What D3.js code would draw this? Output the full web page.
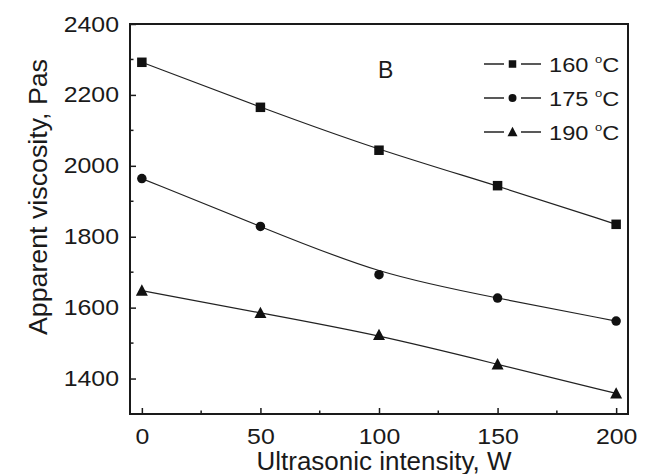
<!DOCTYPE html>
<html>
<head>
<meta charset="utf-8">
<script src="https://cdn.jsdelivr.net/npm/d3@7"></script>
<style>
  body { margin: 0; background: #fff; }
  text { font-family: "Liberation Sans", Arial, sans-serif; fill: #1a1a1a; }
</style>
</head>
<body>
<div id="chart"></div>
<script>
// data
var intensity = [0, 50, 100, 150, 200];
var visc160 = [2292, 2165, 2044, 1944, 1835];
var visc175 = [1964, 1829, 1693, 1627, 1562];
var visc190 = [1648, 1585, 1523, 1440, 1358];
var seriesNames = ["160", "175", "190"];
var markerTypes = ["square", "circle", "triangle"];
var xTicks = [0, 50, 100, 150, 200];
var yTicks = [1400, 1600, 1800, 2000, 2200, 2400];

var W = 647, H = 474;
var margin = { top: 24, right: 19, bottom: 60, left: 130 };

var svg = d3.select("#chart").append("svg")
  .attr("width", W).attr("height", H);

var x = d3.scaleLinear().domain([-5, 205]).range([margin.left, W - margin.right]);
var y = d3.scaleLinear().domain([1300, 2400]).range([H - margin.bottom, margin.top]);

// stretch glyphs a bit wider, the original font is wider than Arial
function stretch(sel, k) {
  sel.each(function() {
    var len = this.getComputedTextLength();
    d3.select(this).attr("textLength", len * k).attr("lengthAdjust", "spacingAndGlyphs");
  });
}

// minor ticks (inside)
var xMinor = [25, 75, 125, 175];
var yMinor = [1300, 1500, 1700, 1900, 2100, 2300];

svg.append("g").selectAll("line").data(xMinor).enter().append("line")
  .attr("x1", d => x(d)).attr("x2", d => x(d))
  .attr("y1", y.range()[0]).attr("y2", y.range()[0] - 3.5)
  .attr("stroke", "#1a1a1a").attr("stroke-width", 1.5);
svg.append("g").selectAll("line").data(yMinor).enter().append("line")
  .attr("y1", d => y(d)).attr("y2", d => y(d))
  .attr("x1", x.range()[0]).attr("x2", x.range()[0] + 3.5)
  .attr("stroke", "#1a1a1a").attr("stroke-width", 1.5);

// x axis
var gx = svg.append("g")
  .attr("transform", "translate(0," + y.range()[0] + ")")
  .call(d3.axisBottom(x).tickValues(xTicks).tickFormat(d3.format("d")).tickSize(-6).tickPadding(14));
gx.select(".domain").remove();
gx.selectAll(".tick line").attr("stroke", "#1a1a1a").attr("stroke-width", 1.5);
gx.selectAll(".tick text").style("font-size", "22px")
  .style("font-family", "Liberation Sans, Arial, sans-serif").attr("fill", "#111")
  .call(stretch, 1.13);

// y axis
var gy = svg.append("g")
  .attr("transform", "translate(" + x.range()[0] + ",0)")
  .call(d3.axisLeft(y).tickValues(yTicks).tickFormat(d3.format("d")).tickSize(-6).tickPadding(11));
gy.select(".domain").remove();
gy.selectAll(".tick line").attr("stroke", "#1a1a1a").attr("stroke-width", 1.5);
gy.selectAll(".tick text").style("font-size", "22px")
  .style("font-family", "Liberation Sans, Arial, sans-serif").attr("fill", "#111")
  .call(stretch, 1.13);

// frame
svg.append("rect")
  .attr("x", x.range()[0]).attr("y", y.range()[1])
  .attr("width", x.range()[1] - x.range()[0])
  .attr("height", y.range()[0] - y.range()[1])
  .attr("fill", "none").attr("stroke", "#1a1a1a").attr("stroke-width", 2);

// axis titles
svg.append("text")
  .attr("x", 384).attr("y", 470)
  .attr("text-anchor", "middle")
  .attr("textLength", 255).attr("lengthAdjust", "spacingAndGlyphs")
  .style("font-size", "25px")
  .text("Ultrasonic intensity, W");

svg.append("text")
  .attr("transform", "translate(47,197) rotate(-90)")
  .attr("text-anchor", "middle")
  .attr("textLength", 276).attr("lengthAdjust", "spacingAndGlyphs")
  .style("font-size", "25.5px")
  .text("Apparent viscosity, Pas");

// panel label
svg.append("text")
  .attr("x", 378).attr("y", 78)
  .style("font-size", "23px")
  .text("B");

// series
var allSeries = [visc160, visc175, visc190];
var line = d3.line()
  .x((d, i) => x(intensity[i]))
  .y(d => y(d))
  .curve(d3.curveBasis);

function drawMarker(g, type, cx, cy, s) {
  if (type === "square") {
    g.append("rect").attr("x", cx - s / 2).attr("y", cy - s / 2)
      .attr("width", s).attr("height", s).attr("fill", "#111");
  } else if (type === "circle") {
    g.append("circle").attr("cx", cx).attr("cy", cy).attr("r", s / 2).attr("fill", "#111");
  } else {
    var h = s * 0.95;
    g.append("path")
      .attr("d", "M" + cx + "," + (cy - h * 0.55) + "L" + (cx + s / 2) + "," + (cy + h * 0.45) +
        "L" + (cx - s / 2) + "," + (cy + h * 0.45) + "Z")
      .attr("fill", "#111");
  }
}

var markerSize = { square: 9.5, circle: 9.5, triangle: 12 };

allSeries.forEach(function(vals, k) {
  svg.append("path")
    .datum(vals)
    .attr("d", line)
    .attr("fill", "none")
    .attr("stroke", "#222")
    .attr("stroke-width", 1.2);
  var g = svg.append("g");
  vals.forEach(function(v, i) {
    drawMarker(g, markerTypes[k], x(intensity[i]), y(v), markerSize[markerTypes[k]]);
  });
});

// legend
var legendY = [64, 98, 132];
var legendMarker = { square: 7.5, circle: 8, triangle: 10 };
seriesNames.forEach(function(name, k) {
  var g = svg.append("g");
  [[484, 504], [521, 541]].forEach(function(seg) {
    g.append("line")
      .attr("x1", seg[0]).attr("x2", seg[1])
      .attr("y1", legendY[k]).attr("y2", legendY[k])
      .attr("stroke", "#222").attr("stroke-width", 1.5);
  });
  drawMarker(g, markerTypes[k], 512.5, legendY[k], legendMarker[markerTypes[k]]);
  var t = g.append("text")
    .attr("x", 549).attr("y", legendY[k] + 7.5)
    .style("font-size", "20px");
  t.append("tspan").text(name + " ");
  t.append("tspan").attr("dy", -9).style("font-size", "11px").text("o");
  t.append("tspan").attr("dy", 9).text("C");
  t.call(stretch, 1.18);
});
</script>
</body>
</html>
